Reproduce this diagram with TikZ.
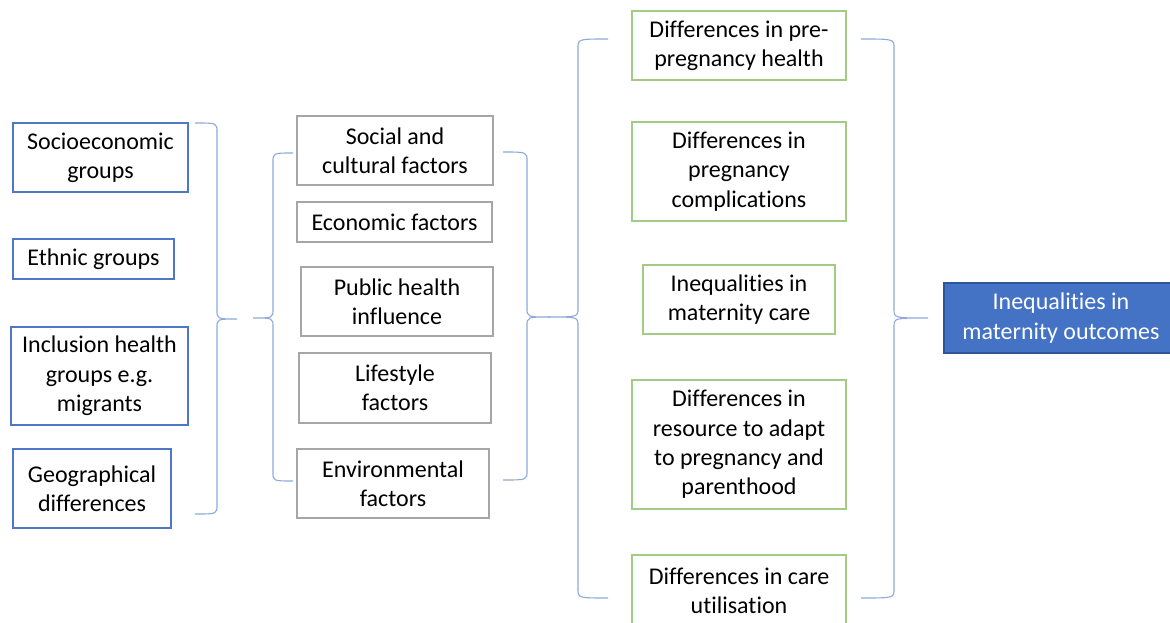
\documentclass[tikz,border=0pt]{standalone}
\usepackage{fontspec}
\setmainfont[Ligatures=NoCommon]{Carlito}
\definecolor{bracec}{HTML}{8EA9DB}
\definecolor{leftc}{HTML}{4F77C6}
\definecolor{midc}{HTML}{A6A6A6}
\definecolor{greenc}{HTML}{A2CC85}
\definecolor{bluefill}{HTML}{4472C4}
\definecolor{blueedge}{HTML}{2F5597}
\newcommand\mybrace[6]{% arm, vertical, tip, top, mid, bottom
  \draw[bracec, line width=1.1pt]
    (#1,#4) .. controls (#2,#4) and (#2,#4) .. (#2,#4+9)
    -- (#2,#5-9) .. controls (#2,#5) and (#2,#5) .. (#3,#5)
    .. controls (#2,#5) and (#2,#5) .. (#2,#5+9)
    -- (#2,#6-9) .. controls (#2,#6) and (#2,#6) .. (#1,#6);}
\begin{document}
\begin{tikzpicture}[x=1pt,y=-1pt,
  box/.style={draw, line width=1.3pt, inner sep=0pt, align=center, fill=white,
    font=\fontsize{24}{29.3}\selectfont, text=black},
  leftbox/.style={box, draw=leftc},
  midbox/.style={box, draw=midc},
  rightbox/.style={box, draw=greenc},
  outbox/.style={box, draw=blueedge, fill=bluefill, text=white}]
\useasboundingbox (0,0) rectangle (1170,623);
\fill[white] (0,0) rectangle (1170,623);

% left column
\node[leftbox, minimum width=175, minimum height=69] (soc) at (100.5,157.5) {Socioeconomic\\groups};
\node[leftbox, minimum width=161, minimum height=40] (eth) at (93.5,259) {Ethnic groups};
\node[leftbox, minimum width=177, minimum height=98] (inc) at (99.5,376) {Inclusion health\\groups e.g.\\migrants};
\node[leftbox, minimum width=158, minimum height=79] (geo) at (92,488.5) {Geographical\\differences};

% middle column
\node[midbox, minimum width=196, minimum height=69] (scf) at (395,150.5) {Social and\\cultural factors};
\node[midbox, minimum width=195, minimum height=40] (eco) at (394.5,222) {Economic factors};
\node[midbox, minimum width=192, minimum height=69] (pub) at (397,301.5) {Public health\\influence};
\node[midbox, minimum width=192, minimum height=70] (life) at (395,388) {Lifestyle\\factors};
\node[midbox, minimum width=192, minimum height=69] (env) at (393,483.5) {Environmental\\factors};

% right column
\node[rightbox, minimum width=214, minimum height=69] (pre) at (739,45.5) {Differences in pre-\\pregnancy health};
\node[rightbox, minimum width=214, minimum height=99] (comp) at (739,171.5) {Differences in\\pregnancy\\complications};
\node[rightbox, minimum width=192, minimum height=69] (care) at (739,299.5) {Inequalities in\\maternity care};
\node[rightbox, minimum width=214, minimum height=129] (res) at (739,444.5) {Differences in\\resource to adapt\\to pregnancy and\\parenthood};
\node[rightbox, minimum width=214, minimum height=71] (util) at (739,590.5) {Differences in care\\utilisation};

% outcome
\node[outbox, minimum width=234, minimum height=70] (out) at (1061,318) {Inequalities in\\maternity outcomes};

% braces
\mybrace{195}{217}{237}{123}{319}{514}
\mybrace{293}{273}{253}{153}{318}{481}
\mybrace{503}{527}{550}{152}{317}{480}
\mybrace{608}{578}{548}{39}{317}{598}
\mybrace{861}{894}{928}{39}{318}{598}
\end{tikzpicture}
\end{document}
